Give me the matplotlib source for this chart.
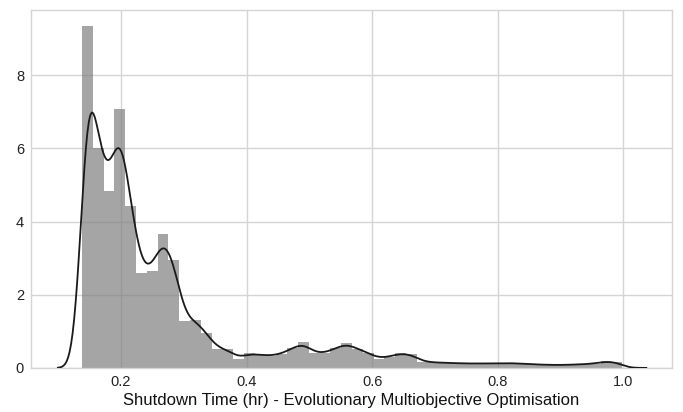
import numpy as np
import matplotlib
matplotlib.use("Agg")
import matplotlib.pyplot as plt

# Histogram of shutdown times (density per bin), 50 equal-width bins
bin_start = 0.138
bin_width = 0.0172
densities = [
    9.33, 6.00, 4.84, 7.07, 4.43, 2.59, 2.66, 3.66, 2.95, 1.28,
    1.31, 0.95, 0.52, 0.51, 0.24, 0.40, 0.35, 0.33, 0.38, 0.54,
    0.70, 0.40, 0.40, 0.54, 0.67, 0.52, 0.40, 0.25, 0.31, 0.40,
    0.37, 0.17, 0.15, 0.14, 0.13, 0.12, 0.12, 0.12, 0.13, 0.13,
    0.12, 0.10, 0.09, 0.08, 0.08, 0.09, 0.10, 0.12, 0.18, 0.16,
]
bandwidth = 0.0128
x_ticks = [0.2, 0.4, 0.6, 0.8, 1.0]
y_ticks = [0, 2, 4, 6, 8]
xlabel = "Shutdown Time (hr) - Evolutionary Multiobjective Optimisation"

plt.rcParams["font.family"] = ["Liberation Sans", "DejaVu Sans"]

dens = np.asarray(densities)
edges = bin_start + bin_width * np.arange(len(dens) + 1)
centers = 0.5 * (edges[:-1] + edges[1:])

# Gaussian kernel density estimate weighted by the bin masses
weights = dens * bin_width
weights = weights / weights.sum()
grid = np.linspace(edges[0] - 3 * bandwidth, edges[-1] + 3 * bandwidth, 400)
kde = (weights[None, :] *
       np.exp(-0.5 * ((grid[:, None] - centers[None, :]) / bandwidth) ** 2)
       ).sum(axis=1) / (bandwidth * np.sqrt(2 * np.pi))

fig = plt.figure(figsize=(6.83, 4.12), dpi=100)
ax = fig.add_axes([0.0454, 0.107, 0.9386, 0.8687])

ax.bar(edges[:-1], dens, width=bin_width, align="edge", color="#7f7f7f",
       alpha=0.7, linewidth=0, zorder=2)
ax.plot(grid, kde, color="#1a1a1a", linewidth=1.3, zorder=3)

ax.set_xticks(x_ticks)
ax.set_yticks(y_ticks)
ax.set_xticklabels([f"{t:.1f}" for t in x_ticks])
ax.set_yticklabels([str(t) for t in y_ticks])
ax.set_xlim(0.0568, 1.0775)
ax.set_ylim(0, 9.78)
ax.grid(True, color="#d5d5d5", linewidth=1.0, zorder=0)
ax.set_axisbelow(True)
for s in ax.spines.values():
    s.set_color("#d5d5d5")
    s.set_linewidth(1.0)
ax.tick_params(length=0, labelsize=10.5, pad=5, colors="#222222")
ax.set_xlabel(xlabel, fontsize=12, labelpad=3, color="#111111")

fig.savefig("out.png", dpi=100)
